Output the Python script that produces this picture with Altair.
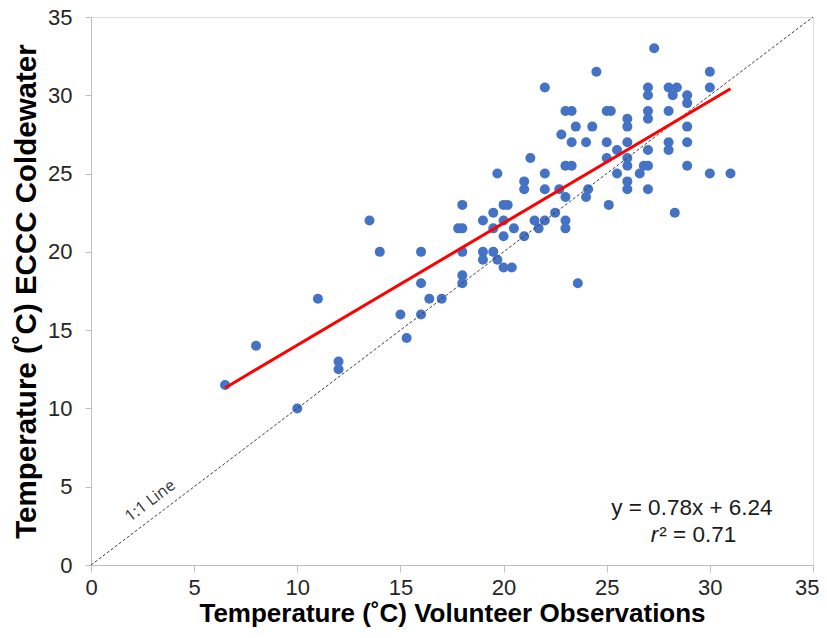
import altair as alt
import pandas as pd

# Volunteer observations (x) and ECCC Coldewater (y), degrees C
volunteer = [6.5, 8, 10, 11, 12, 12, 13.5, 14, 15, 15.3,
             16, 16, 16, 16.4, 17, 17.8, 18, 18, 18, 18,
             18, 19, 19, 19, 19.5, 19.5, 19.5, 19.7, 19.7, 20,
             20.2, 20, 20, 20, 20.4, 20.5, 21, 21, 21, 21.3,
             21.5, 21.7, 22, 22, 22, 22, 22.5, 22.7, 22.8, 23,
             23.3, 23, 23.3, 23, 23, 23, 23.3, 23.5, 23.6, 24,
             24.3, 24.1, 24, 24.5, 25, 25.2, 25, 25, 25.5, 25.5,
             25.1, 26, 26, 26, 26, 26, 26, 26, 26.6, 26.8,
             27, 27, 27, 27, 27, 27, 27, 27.3, 28, 28.4,
             28.2, 28, 28, 28, 28.3, 28.9, 28.9, 28.9, 28.9, 28.9,
             30, 30, 30, 31]
eccc = [11.5, 14, 10, 17, 13, 12.5, 22, 20, 16, 14.5,
        20, 18, 16, 17, 17, 21.5, 21.5, 23, 20, 18.5,
        18, 22, 20, 19.5, 22.5, 21.5, 20, 25, 19.5, 23,
        23, 22, 21, 19, 19, 21.5, 24.5, 24, 21, 26,
        22, 21.5, 30.5, 25, 24, 22, 22.5, 24, 27.5, 29,
        29, 25.5, 25.5, 23.5, 22, 21.5, 27, 28, 18, 27,
        28, 24, 23.5, 31.5, 29, 29, 27, 26, 26.5, 25,
        23, 28.5, 28, 27, 26, 25.5, 24.5, 24, 25, 25.5,
        30.5, 30, 29, 28.5, 26.5, 25.5, 24, 33, 30.5, 30.5,
        30, 29, 27, 26.5, 22.5, 30, 29.5, 28, 27, 25.5,
        31.5, 30.5, 25, 25]

slope = 0.78
intercept = 6.24
fit_range = [6.5, 31]
identity_range = [0, 35]
tick_values = [0, 5, 10, 15, 20, 25, 30, 35]

x_title = "Temperature (˚C) Volunteer Observations"
y_title = "Temperature (˚C) ECCC Coldewater"
eq_text = "y = 0.78x + 6.24"
r_text = "r"
r2_rest = "² = 0.71"
line_label = "1:1 Line"

FONT = "Liberation Sans, Arial, sans-serif"
AXIS_GRAY = "#bfbfbf"

pts = pd.DataFrame({"x": volunteer, "y": eccc})
fit = pd.DataFrame({"x": fit_range})
ident = pd.DataFrame({"x": identity_range, "y": identity_range})
one = pd.DataFrame({"k": [0]})

xscale = alt.Scale(domain=[0, 35], nice=False, zero=False)
yscale = alt.Scale(domain=[0, 35], nice=False, zero=False)

x_axis = alt.Axis(values=tick_values, grid=False, title=x_title,
                  domainColor=AXIS_GRAY, tickColor=AXIS_GRAY, tickSize=7,
                  labelFont=FONT, labelFontSize=22, labelColor="#262626",
                  labelFlush=True, labelFlushOffset=6,
                  labelPadding=5, titleFont=FONT, titleFontSize=26,
                  titleFontWeight="bold", titleColor="#000000", titlePadding=2)
y_axis = alt.Axis(values=tick_values, grid=False, title=y_title,
                  domainColor=AXIS_GRAY, tickColor=AXIS_GRAY, tickSize=6,
                  labelFont=FONT, labelFontSize=22, labelColor="#262626",
                  labelFlush=False,
                  labelPadding=13, titleFont=FONT, titleFontSize=29.5,
                  titleFontWeight="bold", titleColor="#000000", titlePadding=6)

X = alt.X("x:Q", scale=xscale, axis=x_axis)
Y = alt.Y("y:Q", scale=yscale, axis=y_axis)

points = alt.Chart(pts).mark_circle(size=100, color="#4472C4", opacity=1).encode(x=X, y=Y)

identity = alt.Chart(ident).mark_line(color="#404040", strokeWidth=1, strokeDash=[3, 2]).encode(x=X, y=Y)

reg = alt.Chart(fit).transform_calculate(
    y=f"{slope} * datum.x + {intercept}"
).mark_line(color="#FF0000", strokeWidth=3).encode(x=X, y=Y)

eq = alt.Chart(one).mark_text(font=FONT, fontSize=22.5, color="#1a1a1a", align="center", baseline="middle").encode(
    x=alt.datum(29.13), y=alt.datum(3.63), text=alt.value(eq_text))
r_lab = alt.Chart(one).mark_text(font=FONT, fontSize=22.5, fontStyle="italic", color="#1a1a1a", align="right", baseline="middle").encode(
    x=alt.datum(27.5), y=alt.datum(1.91), text=alt.value(r_text))
r_rest = alt.Chart(one).mark_text(font=FONT, fontSize=22.5, color="#1a1a1a", align="left", baseline="middle").encode(
    x=alt.datum(27.55), y=alt.datum(1.91), text=alt.value(r2_rest))
lbl = alt.Chart(one).mark_text(font="Open Sans", fontSize=16, color="#333333", angle=323, align="center", baseline="middle").encode(
    x=alt.datum(2.87), y=alt.datum(4.1), text=alt.value(line_label))

chart = alt.layer(points, identity, reg, eq, r_lab, r_rest, lbl).properties(
    width=722, height=548,
    autosize=alt.AutoSizeParams(type="none"),
    padding={"left": 83, "top": 9, "right": 6, "bottom": 65},
).configure_view(stroke=None).configure(background="white")

chart.save("out.html", embed_options={"renderer": "svg", "actions": False})
